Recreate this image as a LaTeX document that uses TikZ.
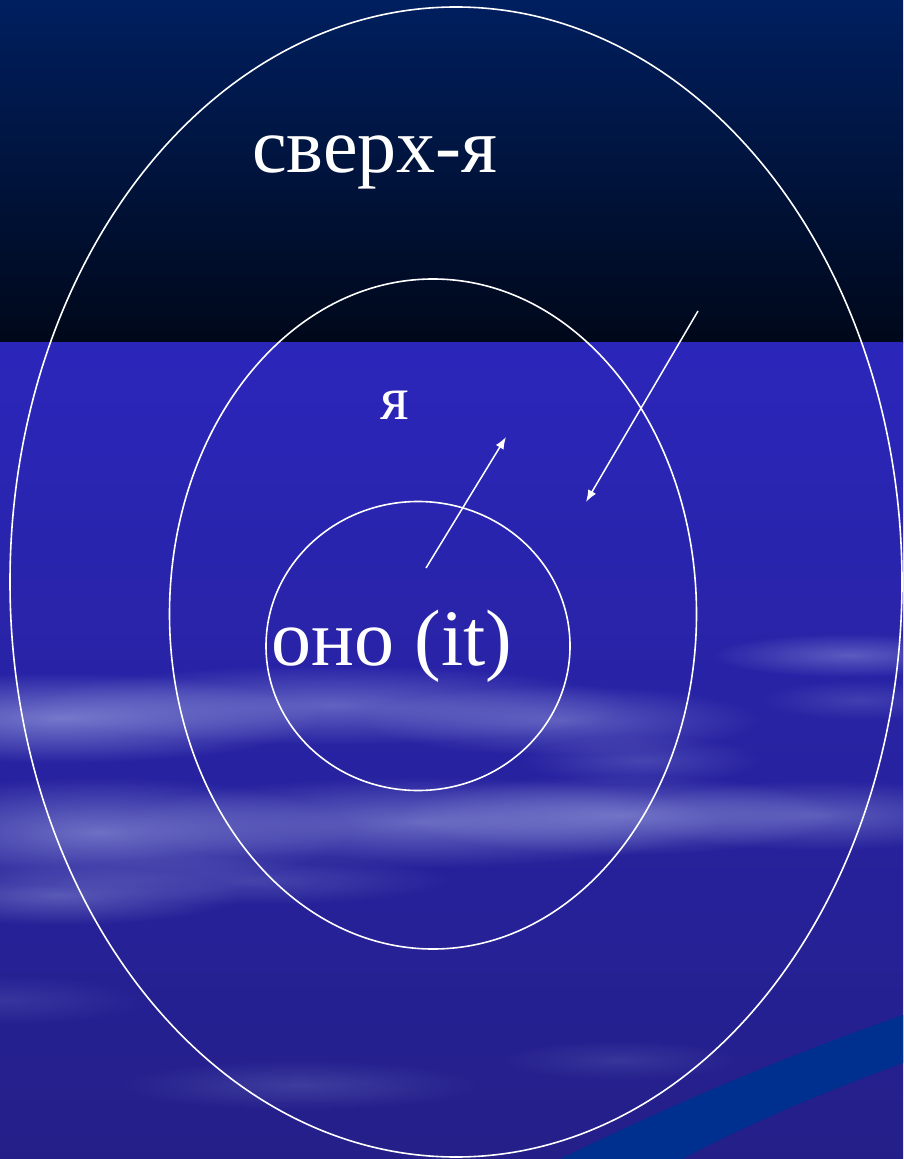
\documentclass[tikz,border=0pt]{standalone}
\usepackage{fontspec}
\setmainfont{Liberation Serif}
\usetikzlibrary{arrows.meta,fadings,shapes.geometric}

\definecolor{nighttop}{HTML}{001F5F}
\definecolor{nightlow}{HTML}{00081A}
\definecolor{seatop}{HTML}{2B26BA}
\definecolor{seamid}{HTML}{2220A0}
\definecolor{sealow}{HTML}{241F88}
\definecolor{cloud}{HTML}{A8B0E6}
\definecolor{ribbon}{HTML}{00308F}

\tikzfading[name=cloudfade, inner color=transparent!0, outer color=transparent!100]

\tikzset{
  ring/.style={draw=white, line width=0.8pt, ellipse, inner sep=0pt, outer sep=0pt},
  word/.style={text=white, inner sep=0pt, anchor=base},
  push/.style={draw=white, line width=0.75pt, -{Latex[length=6pt,width=4.5pt]}}
}

% one soft streak of cloud: x, y, x radius, y radius, opacity (pixels)
\newcommand{\puff}[5]{%
  \fill[cloud, opacity=#5, path fading=cloudfade]
    (#1,#2) ellipse [x radius={#3*0.5pt}, y radius={#4*0.5pt}];}

\begin{document}
\begin{tikzpicture}[x=0.5pt, y=-0.5pt]
\useasboundingbox (0,0) rectangle (903,1159);

% sky and sea
\shade[top color=nighttop, bottom color=nightlow] (0,0) rectangle (903,343);
\shade[top color=seatop, middle color=seamid, bottom color=sealow] (0,343) rectangle (903,1159);

% clouds
\puff{60}{718}{260}{45}{0.6}
\puff{330}{705}{300}{40}{0.45}
\puff{560}{720}{200}{35}{0.4}
\puff{640}{760}{120}{25}{0.25}
\puff{100}{832}{250}{55}{0.55}
\puff{420}{822}{300}{45}{0.5}
\puff{620}{815}{220}{40}{0.5}
\puff{820}{815}{200}{35}{0.4}
\puff{60}{895}{180}{30}{0.4}
\puff{250}{880}{200}{25}{0.25}
\puff{850}{655}{140}{22}{0.4}
\puff{860}{700}{100}{20}{0.2}
\puff{300}{1085}{180}{25}{0.2}
\puff{620}{1060}{120}{20}{0.15}
\puff{0}{1000}{150}{25}{0.15}

% ribbon
\fill[ribbon] (560,1159) .. controls (640,1120) and (760,1065) .. (903,1015)
  -- (903,1063) .. controls (830,1090) and (760,1118) .. (682,1159) -- cycle;

% rings
\node[ring, minimum width=446pt, minimum height=575pt] (superego) at (456,582) {};
\node[ring, minimum width=263.5pt, minimum height=335pt] (ego) at (433,614) {};
\node[ring, minimum width=152pt, minimum height=144.5pt] (id) at (418,646) {};

% labels
\node[word, font=\fontsize{39}{41}\selectfont] (superlbl) at (375,173) {сверх-я};
\node[word, font=\fontsize{31}{33}\selectfont] (egolbl) at (395,420) {я};
\node[word, font=\fontsize{40}{42}\selectfont] (idlbl) at (392,665) {оно (it)};

% arrows
\coordinate (idtail) at (426,568);
\coordinate (idhead) at (506,437);
\coordinate (suptail) at (698,311);
\coordinate (suphead) at (586,502);
\draw[push] (idtail) -- (idhead);
\draw[push] (suptail) -- (suphead);
\end{tikzpicture}
\end{document}
